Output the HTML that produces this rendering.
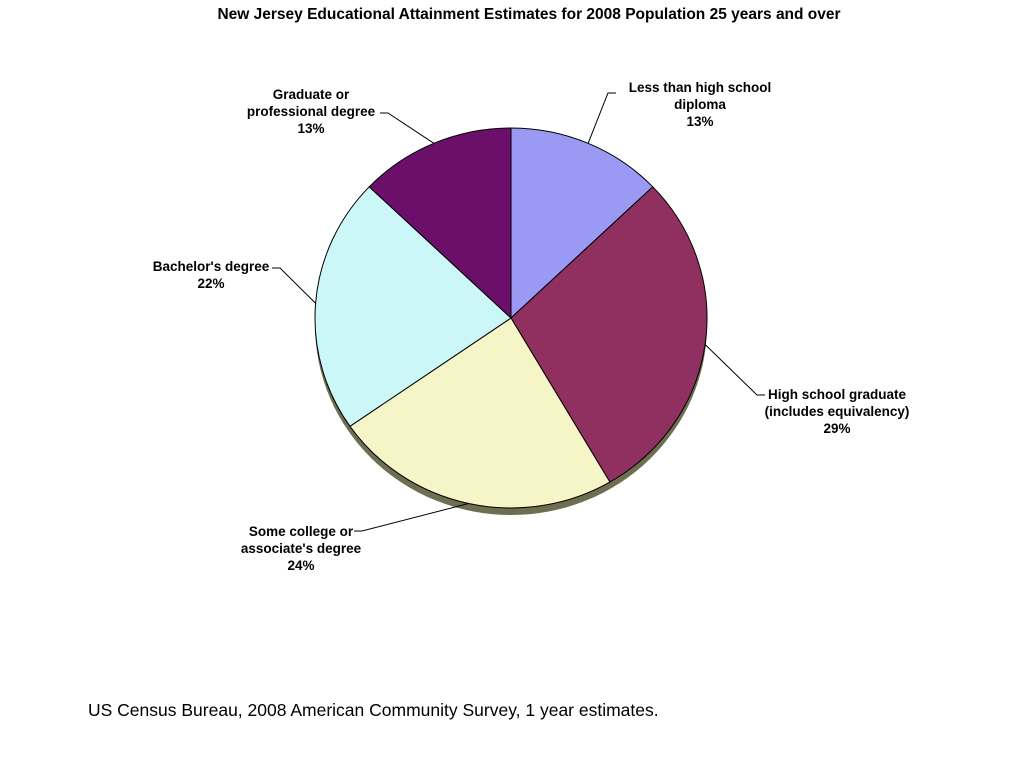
<!DOCTYPE html>
<html><head><meta charset="utf-8"><style>
body{margin:0;background:#fff;width:1024px;height:768px;overflow:hidden;font-family:"Liberation Sans",sans-serif}
</style></head><body>
<svg width="1024" height="768" style="position:absolute;left:0;top:0">
<text x="529" y="19" text-anchor="middle" font-size="15.5" font-weight="bold">New Jersey Educational Attainment Estimates for 2008 Population 25 years and over</text>
<g id="depth"></g>
<g id="slices"></g>
<g id="labels" font-size="13.5" font-weight="bold" text-anchor="middle"></g>
<text x="88" y="716" font-size="17.5">US Census Bureau, 2008 American Community Survey, 1 year estimates.</text>
</svg>
<script>
const categories=["Less than high school diploma","High school graduate (includes equivalency)","Some college or associate's degree","Bachelor's degree","Graduate or professional degree"];
const values=[13,29,24,22,13];
const colors=["#9a9af5","#8f3060","#f5f5c8","#ccf7f8","#6b0f6b"];
const labelLines=[["Less than high school","diploma","13%"],["High school graduate","(includes equivalency)","29%"],["Some college or","associate's degree","24%"],["Bachelor's degree","22%"],["Graduate or","professional degree","13%"]];
const labelPos=[[700,92],[837,399],[301,536],[211,271],[311,99]];
const lineEnd=[[608,93],[757,395],[362,531],[280,268],[388,113]];
const cx=511,cy=318,rx=196,ry=190,depth=7;
const NS="http://www.w3.org/2000/svg";
const total=values.reduce((a,b)=>a+b,0);
function pt(a,r1,r2,dy){return [cx+r1*Math.sin(a),cy-r2*Math.cos(a)+(dy||0)];}
const dg=document.getElementById('depth'),sg=document.getElementById('slices'),lg=document.getElementById('labels');
// depth
const dp=document.createElementNS(NS,'ellipse');
dp.setAttribute('cx',cx);dp.setAttribute('cy',cy+depth);dp.setAttribute('rx',rx);dp.setAttribute('ry',ry);
dp.setAttribute('fill','#6e6e50');


dg.appendChild(dp);
let a0=0;
values.forEach((v,i)=>{
  const a1=a0+v/total*2*Math.PI;
  const p0=pt(a0,rx,ry),p1=pt(a1,rx,ry);
  const large=(a1-a0)>Math.PI?1:0;
  const p=document.createElementNS(NS,'path');
  p.setAttribute('d',`M${cx},${cy}L${p0[0]},${p0[1]}A${rx},${ry} 0 ${large} 1 ${p1[0]},${p1[1]}Z`);
  p.setAttribute('fill',colors[i]);p.setAttribute('stroke','#000');p.setAttribute('stroke-width','1');
  
  
  sg.appendChild(p);
  const mid=(a0+a1)/2,pm=pt(mid,rx,ry);
  const l=document.createElementNS(NS,'polyline');
  const le=lineEnd[i];
  const dir=le[0]>cx?1:-1;
  l.setAttribute('points',`${pm[0]},${pm[1]} ${le[0]},${le[1]} ${le[0]+dir*8},${le[1]}`);
  l.setAttribute('fill','none');l.setAttribute('stroke','#000');
  
  
  lg.appendChild(l);
  const t=document.createElementNS(NS,'text');
  t.setAttribute('x',labelPos[i][0]);t.setAttribute('y',labelPos[i][1]);
  
  
  labelLines[i].forEach((s,j)=>{const ts=document.createElementNS(NS,'tspan');ts.setAttribute('x',labelPos[i][0]);ts.setAttribute('dy',j?17:0);ts.textContent=s;t.appendChild(ts);});
  lg.appendChild(t);
  a0=a1;
});
</script>
</body></html>
